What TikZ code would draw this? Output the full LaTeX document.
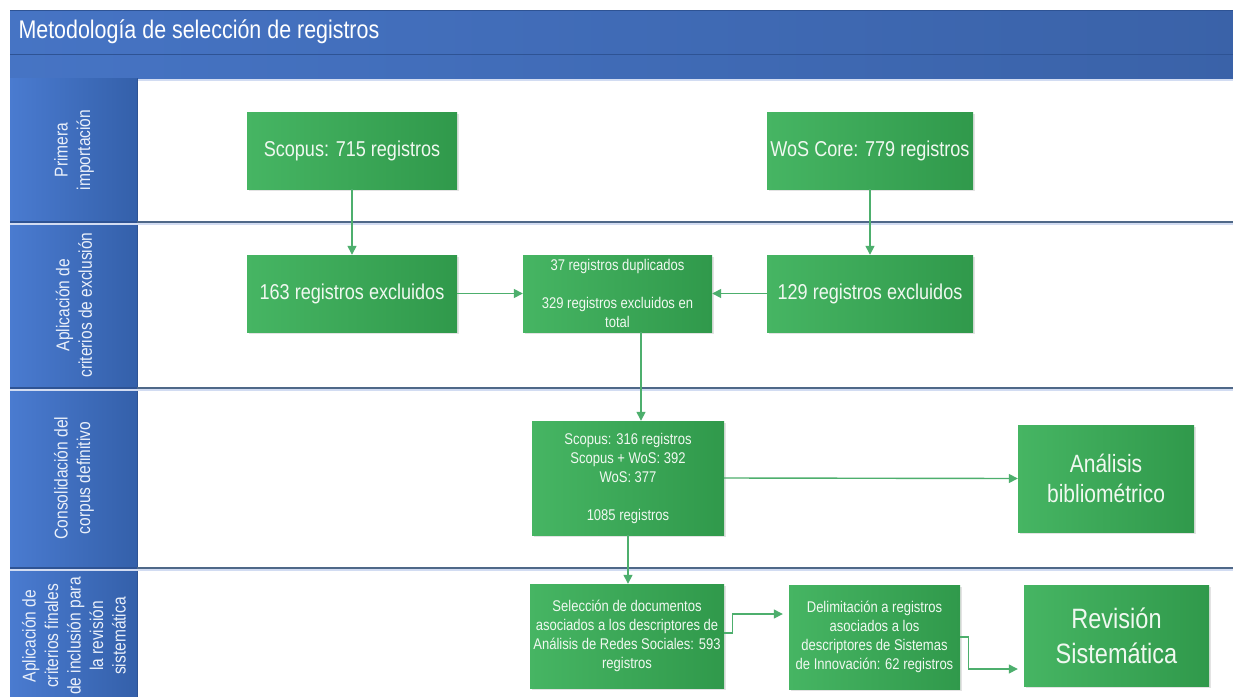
\documentclass[tikz,border=0pt]{standalone}
\usepackage{fontspec}
\setmainfont{Liberation Sans}[FakeStretch=0.84]
\usetikzlibrary{arrows.meta,shadows,calc}
\definecolor{barL}{HTML}{4674C4}
\definecolor{barR}{HTML}{3A62A8}
\definecolor{colL}{HTML}{4A7BD0}
\definecolor{colR}{HTML}{3460AA}
\definecolor{barline}{HTML}{2E5394}
\definecolor{laneline}{HTML}{4F6888}
\definecolor{laneglow}{HTML}{D2DCF2}
\definecolor{gL}{HTML}{46B563}
\definecolor{gR}{HTML}{30994B}
\definecolor{gtext}{HTML}{F0F8F0}
\definecolor{arrowc}{HTML}{4DAF6D}
\definecolor{labtext}{HTML}{EAF0FA}
\tikzset{
  greenbox/.style={draw=none, left color=gL, right color=gR, text=gtext, align=center,
    inner sep=3pt, drop shadow={shadow xshift=1.5pt, shadow yshift=-1.5pt, opacity=0.22}},
  bigtxt/.style={font=\fontsize{21.5}{26}\selectfont},
  smalltxt/.style={font=\fontsize{15.5}{19}\selectfont},
  lanelab/.style={rotate=90, align=center, text=labtext, font=\fontsize{18.5}{22.5}\selectfont},
  flow/.style={draw=arrowc, line width=1.4pt, -{Triangle[length=9pt,width=9pt]}},
  laneln/.style={draw=laneline, line width=1.3pt}
}
\begin{document}
\begin{tikzpicture}[x=1pt,y=-1pt]
\useasboundingbox (0,0) rectangle (1233,696);
\clip (0,0) rectangle (1233,696);
\fill[white] (0,0) rectangle (1233,696);
% header bars
\shade[left color=barL, right color=barR] (10,10) rectangle (1240,78);
\draw[barline, line width=1pt] (10,10.5) -- (1240,10.5);
\draw[barline, line width=1pt] (10,54) -- (1240,54);
\draw[laneglow, line width=2pt] (10,79.5) -- (1240,79.5);
\node[anchor=west, text=white, font=\fontsize{25.5}{30}\selectfont] (title) at (15,32) {Metodología de selección de registros};
% left column
\shade[left color=colL, right color=colR] (10,78) rectangle (137,700);
\draw[barline, line width=1pt] (137,78) -- (137,700);
\foreach \yy in {222,388,568}{
  \draw[laneglow, line width=2.5pt] (10,\yy+2.2) -- (1240,\yy+2.2);
  \draw[barline, line width=1.2pt] (10,\yy) -- (137,\yy);
  \draw[laneln] (137,\yy) -- (1240,\yy);
}
\node[lanelab] (l1) at (74,150) {Primera\\importación};
\node[lanelab] (l2) at (74,305) {Aplicación de\\criterios de exclusión};
\node[lanelab] (l3) at (74,478) {Consolidación del\\corpus definitivo};
\node[lanelab] (l4) at (74,636) {Aplicación de\\criterios finales\\de inclusión para\\la revisión\\sistemática};
% boxes
\node[greenbox, bigtxt, minimum width=210pt, minimum height=77pt] (scopus) at (352,150.5) {Scopus: 715 registros};
\node[greenbox, bigtxt, minimum width=206pt, minimum height=77pt] (wos) at (870,150.5) {WoS Core: 779 registros};
\node[greenbox, bigtxt, minimum width=210pt, minimum height=77pt] (ex163) at (352,293.5) {163 registros excluidos};
\node[greenbox, bigtxt, minimum width=206pt, minimum height=77pt] (ex129) at (870,293.5) {129 registros excluidos};
\node[greenbox, smalltxt, minimum width=189pt, minimum height=77pt] (mid) at (617.5,293.5) {37 registros duplicados\\[19pt]329 registros excluidos en\\total};
\node[greenbox, smalltxt, minimum width=192pt, minimum height=114pt] (cons) at (628,478) {Scopus: 316 registros\\Scopus + WoS: 392\\WoS: 377\\[19pt]1085 registros};
\node[greenbox, font=\fontsize{25}{30}\selectfont, minimum width=176pt, minimum height=107pt] (biblio) at (1106,478.5) {Análisis\\bibliométrico};
\node[greenbox, smalltxt, minimum width=194pt, minimum height=104pt] (sel) at (627,636) {Selección de documentos\\asociados a los descriptores de\\Análisis de Redes Sociales: 593\\registros};
\node[greenbox, smalltxt, minimum width=171pt, minimum height=104pt] (delim) at (874.5,637) {Delimitación a registros\\asociados a los\\descriptores de Sistemas\\de Innovación: 62 registros};
\node[greenbox, font=\fontsize{28}{35}\selectfont, minimum width=185pt, minimum height=101pt] (rev) at (1116.5,635.5) {Revisión\\Sistemática};
% connectors
\draw[flow] (scopus.south) -- (ex163.north);
\draw[flow] (wos.south) -- (ex129.north);
\draw[flow] (ex163.east) -- (mid.west);
\draw[flow] (ex129.west) -- (mid.east);
\draw[flow] ([xshift=23.5pt]mid.south) -- ([xshift=23.5pt]mid.south |- cons.north);
\draw[flow] (cons.east) -- (biblio.west);
\draw[flow] (cons.south) -- (cons.south |- sel.north);
\draw[flow] ([yshift=3pt]sel.east) -- ++(8,0) |- ([xshift=-6pt,yshift=23pt]delim.west);
\draw[flow] (delim.east) -- ++(8,0) |- ([xshift=-6pt,yshift=-33.5pt]rev.west);
\end{tikzpicture}
\end{document}
